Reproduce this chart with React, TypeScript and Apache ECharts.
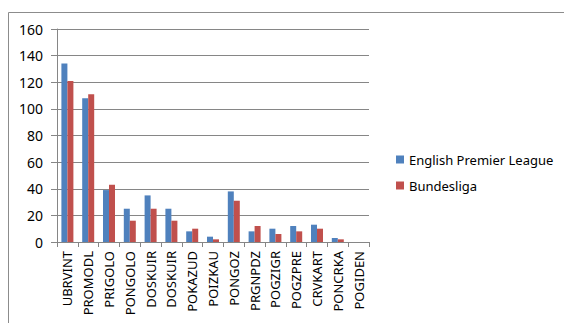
import React, { useEffect, useRef } from "react";
import * as echarts from "echarts";

const categories = [
  "UBRVINT", "PROMODL", "PRIGOLO", "PONGOLO", "DOSKUIR", "DOSKUIR", "POKAZUD",
  "POIZKAU", "PONGOZ", "PRGNPDZ", "POGZIGR", "POGZPRE", "CRVKART", "PONCRKA", "POGIDEN",
];
const eplValues = [134, 108, 39, 25, 35, 25, 8, 4, 38, 8, 10, 12, 13, 3, 0];
const bundesValues = [121, 111, 43, 16, 25, 16, 10, 2, 31, 12, 6, 8, 10, 2, 0];
const seriesNames = ["English Premier League", "Bundesliga"];
const yTicks = { min: 0, max: 160, interval: 20 };

export default function App() {
  const ref = useRef<HTMLDivElement>(null);
  useEffect(() => {
    if (!ref.current) return;
    const chart = echarts.init(ref.current, undefined, { renderer: "svg" });
    const font = "'Noto Sans', sans-serif";
    chart.setOption({
      animation: false,
      backgroundColor: "#ffffff",
      textStyle: { fontFamily: font },
      graphic: [
        {
          type: "rect",
          shape: { x: 8.5, y: 12.5, width: 600, height: 400 },
          style: { fill: "none", stroke: "#8c8c8c", lineWidth: 1 },
          silent: true,
        },
      ],
      grid: { left: 57, right: 195, top: 29, bottom: 81 },
      legend: {
        orient: "vertical",
        left: 391,
        top: 148,
        itemWidth: 8,
        itemHeight: 8,
        itemGap: 13,
        icon: "rect",
        textStyle: { fontFamily: font, fontSize: 13, color: "#000" },
        data: seriesNames,
      },
      xAxis: {
        type: "category",
        data: categories,
        axisLine: { lineStyle: { color: "#868686", width: 1 } },
        axisTick: { show: true, alignWithLabel: false, length: 5, lineStyle: { color: "#868686" } },
        axisLabel: {
          rotate: 90,
          interval: 0,
          fontFamily: font,
          fontSize: 13,
          color: "#000",
          margin: 9,
        },
      },
      yAxis: {
        type: "value",
        min: yTicks.min,
        max: yTicks.max,
        interval: yTicks.interval,
        axisLine: { show: true, lineStyle: { color: "#868686", width: 1 } },
        axisTick: { show: true, length: 6, lineStyle: { color: "#868686" } },
        splitLine: { lineStyle: { color: "#868686", width: 1.2 } },
        axisLabel: { fontFamily: font, fontSize: 14, color: "#000", margin: 14 },
      },
      series: [
        {
          name: seriesNames[0],
          type: "bar",
          data: eplValues,
          barWidth: 6,
          barGap: "0%",
          itemStyle: { color: "#4F81BD" },
        },
        {
          name: seriesNames[1],
          type: "bar",
          data: bundesValues,
          barWidth: 6,
          barGap: "0%",
          itemStyle: { color: "#C0504D" },
        },
      ],
    });
    return () => chart.dispose();
  }, []);
  return (
    <div
      ref={ref}
      style={{ position: "fixed", left: 0, top: 0, width: 564, height: 323 }}
    />
  );
}
